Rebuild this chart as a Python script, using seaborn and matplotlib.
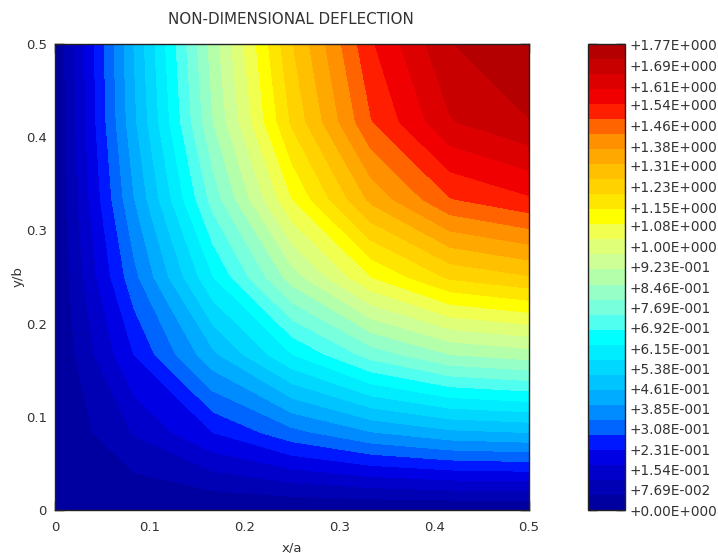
import matplotlib
matplotlib.use("Agg")
import matplotlib.pyplot as plt
import numpy as np
import seaborn as sns

# grid nodes of the quarter plate
x_nodes = [0, 1/12, 2/12, 3/12, 4/12, 5/12, 6/12]
y_nodes = [0, 1/12, 2/12, 3/12, 4/12, 5/12, 6/12]

row_0 = [0, 0, 0, 0, 0, 0, 0]
row_1 = [0, 0.119, 0.229, 0.324, 0.397, 0.443, 0.458]
row_2 = [0, 0.229, 0.443, 0.626, 0.766, 0.855, 0.885]
row_3 = [0, 0.324, 0.626, 0.885, 1.084, 1.209, 1.252]
row_4 = [0, 0.397, 0.766, 1.084, 1.328, 1.481, 1.533]
row_5 = [0, 0.443, 0.855, 1.209, 1.481, 1.651, 1.710]
row_6 = [0, 0.458, 0.885, 1.252, 1.533, 1.710, 1.770]

axis_ticks = [0, 0.1, 0.2, 0.3, 0.4, 0.5]
axis_labels = ["0", "0.1", "0.2", "0.3", "0.4", "0.5"]

bar_ticks = [0, 0.0769, 0.154, 0.231, 0.308, 0.385, 0.461, 0.538, 0.615, 0.692,
             0.769, 0.846, 0.923, 1.00, 1.08, 1.15, 1.23, 1.31, 1.38, 1.46,
             1.54, 1.61, 1.69, 1.77]
bar_labels = ["+0.00E+000", "+7.69E-002", "+1.54E-001", "+2.31E-001", "+3.08E-001",
              "+3.85E-001", "+4.61E-001", "+5.38E-001", "+6.15E-001", "+6.92E-001",
              "+7.69E-001", "+8.46E-001", "+9.23E-001", "+1.00E+000", "+1.08E+000",
              "+1.15E+000", "+1.23E+000", "+1.31E+000", "+1.38E+000", "+1.46E+000",
              "+1.54E+000", "+1.61E+000", "+1.69E+000", "+1.77E+000"]

# the band colours seen along the top edge, lowest band first
band_colors = ["#0000a0", "#0000b4", "#0000ca", "#0000e4", "#0018ff", "#0064ff",
               "#008cff", "#00acff", "#00c4ff", "#00d8ff", "#00ecff", "#00ffff",
               "#50fff0", "#78ffdc", "#96ffc8", "#b4ffaa", "#cdff96", "#e0ff78",
               "#f0ff50", "#ffff00", "#ffe600", "#ffd200", "#ffc000", "#ffa800",
               "#ff9000", "#ff6400", "#ff1e00", "#f00000", "#dc0000", "#c80000",
               "#b40000"]

sns.set_style("ticks")
plt.rcParams["font.family"] = ["DejaVu Sans"]

deflection = np.array([row_0, row_1, row_2, row_3, row_4, row_5, row_6])
levels = np.linspace(0, 1.77, len(band_colors) + 1)
colors = sns.color_palette(band_colors)

W, H = 718, 553
fig = plt.figure(figsize=(W / 100, H / 100), dpi=100)
ax = fig.add_axes([55 / W, 1 - 510 / H, 474 / W, 466 / H])
cax = fig.add_axes([588 / W, 1 - 510 / H, 37 / W, 466 / H])

cs = ax.contourf(x_nodes, y_nodes, deflection, levels=levels, colors=colors)

ax.set_xlim(0, 0.5)
ax.set_ylim(0, 0.5)
ax.set_xticks(axis_ticks, axis_labels)
ax.set_yticks(axis_ticks, axis_labels)
ax.tick_params(direction="in", top=True, right=True, length=6.5, width=1,
               labelsize=9.5, color="black", labelcolor="#333333", pad=6)
ax.tick_params(axis="x", pad=8)
ax.set_xlabel("x/a", fontsize=9.5, color="#333333", labelpad=5)
ax.set_ylabel("y/b", fontsize=9.5, color="#333333", labelpad=1)
fig.text(291 / W, 1 - 20 / H, "NON-DIMENSIONAL DEFLECTION", fontsize=10.9,
         color="#333333", ha="center", va="center")

cbar = fig.colorbar(cs, cax=cax, ticks=bar_ticks)
cbar.ax.set_yticklabels(bar_labels)
cbar.ax.minorticks_off()
cbar.ax.tick_params(direction="in", left=True, right=True, length=6.5, width=1,
                    labelsize=9.8, color="black", labelcolor="#333333", pad=3)

for spine in list(ax.spines.values()) + [cbar.outline]:
    spine.set_linewidth(1)
    spine.set_edgecolor("#222222")

fig.savefig("out.png", dpi=100)
